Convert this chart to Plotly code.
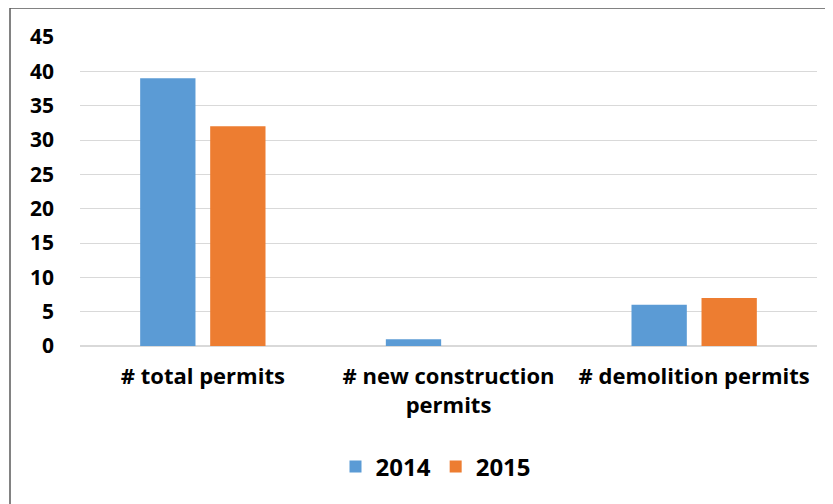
import plotly.graph_objects as go

categories = ["# total permits", "# new construction<br>permits", "# demolition permits"]
series_names = ["2014", "2015"]
values_2014 = [39, 1, 6]
values_2015 = [32, 0, 7]
colors = ["#5B9BD5", "#ED7D31"]
y_ticks = [0, 5, 10, 15, 20, 25, 30, 35, 40, 45]

# page body has an 8px margin, so the figure is drawn at (8, 8)
OFF = 8
W, H = 833 - OFF, 504 - OFF
ml, mr, mt, mb = 80 - OFF, 16, 37 - OFF, 158
pw, ph = W - ml - mr, H - mt - mb

fam = "Open Sans, Liberation Sans, sans-serif"
tfont = dict(family=fam, size=22, color="#000000", weight="bold")
yfont = dict(family=fam, size=21, color="#000000", weight="bold")
lfont = dict(family=fam, size=24, color="#000000", weight="bold")

fig = go.Figure()
for name, vals, c in zip(series_names, [values_2014, values_2015], colors):
    fig.add_trace(go.Bar(x=categories, y=vals, name=name, marker=dict(color=c, line=dict(width=0))))

def px_x(p):
    return (p - OFF - ml) / pw

def px_y(p):
    return (mt + ph - (p - OFF)) / ph

fig.add_shape(type="rect", xref="paper", yref="paper",
              x0=px_x(10), x1=px_x(850), y0=px_y(530), y1=px_y(8),
              line=dict(color="#595959", width=1.5), fillcolor="rgba(0,0,0,0)", layer="below")

fig.update_layout(
    width=W, height=H,
    margin=dict(l=ml, r=mr, t=mt, b=mb),
    paper_bgcolor="white", plot_bgcolor="white",
    barmode="group", bargap=0.43, bargroupgap=0.21,
    font=tfont,
    showlegend=True,
    legend=dict(orientation="h", x=px_x(436), xanchor="center", y=px_y(467), yanchor="middle",
                font=lfont, itemsizing="constant", traceorder="normal"),
    xaxis=dict(showgrid=False, showline=False, ticks="", ticklabelstandoff=15, tickfont=tfont),
    yaxis=dict(range=[0, 45], tickvals=y_ticks, showgrid=True, gridcolor="#D9D9D9", gridwidth=1,
               zeroline=True, zerolinecolor="#D9D9D9", zerolinewidth=1.5, showline=False,
               ticks="", ticklabelstandoff=25, tickfont=yfont),
)

fig.write_html("out.html")
